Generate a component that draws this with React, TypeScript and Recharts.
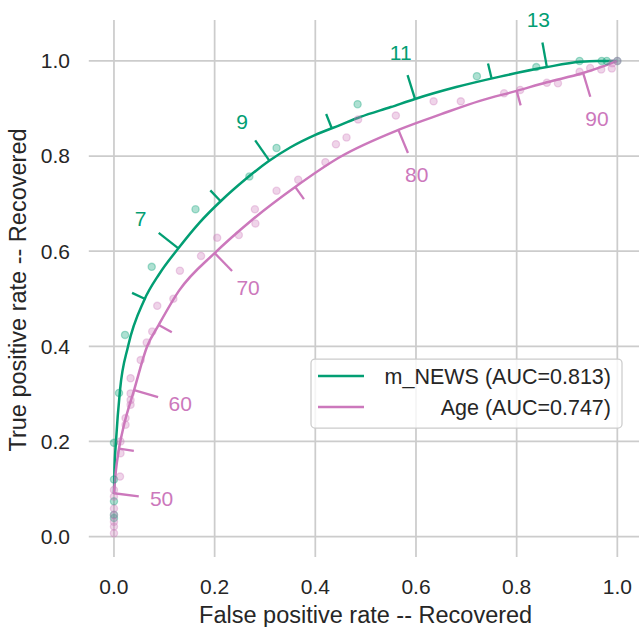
import React from 'react';
import { ComposedChart, Line, Scatter, XAxis, YAxis, ReferenceLine, Label } from 'recharts';

const GREEN = '#029E73';
const PINK = '#CC78BC';
const TEXT = '#262626';
const GRID = '#cccccc';
const FONT = '"Liberation Sans", Arial, Helvetica, sans-serif';

// ---- Fitted (smooth) ROC curves ----
const newsCurveFpr = [0, 0.001, 0.004, 0.012, 0.028, 0.06, 0.09, 0.128, 0.17, 0.214, 0.26, 0.307, 0.35, 0.399, 0.449, 0.489, 0.55, 0.598, 0.68, 0.767, 0.86, 0.926, 0.96, 1.0];
const newsCurveTpr = [0.09, 0.14, 0.2, 0.308, 0.4, 0.497, 0.552, 0.606, 0.66, 0.707, 0.75, 0.789, 0.818, 0.844, 0.865, 0.882, 0.903, 0.92, 0.945, 0.967, 0.987, 0.998, 1.0, 1.0];
const ageCurveFpr = [0, 0.004, 0.01, 0.02, 0.04, 0.066, 0.089, 0.13, 0.2, 0.27, 0.36, 0.449, 0.565, 0.65, 0.727, 0.8, 0.86, 0.93, 0.97, 1.0];
const ageCurveTpr = [0.091, 0.14, 0.185, 0.235, 0.308, 0.4, 0.445, 0.518, 0.596, 0.662, 0.735, 0.798, 0.855, 0.888, 0.916, 0.937, 0.955, 0.974, 0.988, 1.0];

// ---- Empirical ROC points ----
const newsPointFpr = [0, 0, 0, 0, 0, 0.01, 0.022, 0.075, 0.162, 0.269, 0.323, 0.484, 0.721, 0.839, 0.925, 0.969, 0.979, 1.0];
const newsPointTpr = [0.039, 0.046, 0.074, 0.12, 0.197, 0.302, 0.424, 0.567, 0.688, 0.757, 0.817, 0.909, 0.968, 0.987, 1.0, 1.0, 1.0, 1.0];
const agePointFpr = [0, 0, 0, 0, 0, 0, 0, 0.012, 0.013, 0.013, 0.023, 0.023, 0.033, 0.033, 0.033, 0.033, 0.053, 0.065, 0.076, 0.086, 0.118, 0.131, 0.173, 0.205, 0.248, 0.28, 0.281, 0.323, 0.366, 0.42, 0.441, 0.462, 0.485, 0.56, 0.635, 0.689, 0.775, 0.807, 0.86, 0.882, 0.925, 0.946, 0.968, 0.989, 0.99, 1.0];
const agePointTpr = [0.007, 0.021, 0.031, 0.045, 0.059, 0.084, 0.098, 0.126, 0.175, 0.2, 0.235, 0.249, 0.277, 0.287, 0.301, 0.333, 0.371, 0.408, 0.431, 0.485, 0.5, 0.559, 0.59, 0.628, 0.634, 0.688, 0.658, 0.727, 0.75, 0.787, 0.825, 0.839, 0.877, 0.885, 0.915, 0.915, 0.932, 0.939, 0.954, 0.953, 0.977, 0.985, 0.982, 0.984, 0.995, 1.0];

// ---- Threshold ticks on the curves ----
const newsTickThresholds = [6, 7, 8, 9, 10, 11, 12, 13];
const newsTickLabels = ['', '7', '', '9', '', '11', '', '13'];
const newsTickFpr = [0.063, 0.128, 0.212, 0.309, 0.4325, 0.598, 0.75, 0.86];
const newsTickTpr = [0.499, 0.606, 0.705, 0.79, 0.859, 0.92, 0.964, 0.987];
const ageTickThresholds = [50, 55, 60, 65, 70, 75, 80, 85, 90];
const ageTickLabels = ['50', '', '60', '', '70', '', '80', '', '90'];
const ageTickFpr = [0.0, 0.01, 0.04, 0.089, 0.2, 0.36, 0.565, 0.8, 0.932];
const ageTickTpr = [0.091, 0.185, 0.308, 0.445, 0.596, 0.735, 0.855, 0.937, 0.975];

const axisTicks = [0, 0.2, 0.4, 0.6, 0.8, 1.0];
const legendLabels = ['m_NEWS (AUC=0.813)', 'Age (AUC=0.747)'];
const xLabel = 'False positive rate -- Recovered';
const yLabel = 'True positive rate -- Recovered';

// ---- layout ----
const CHART_W = 650;
const CHART_H = 627;
const MARGIN = { top: 20, right: 7.5, bottom: 0, left: 0 };
const Y_AXIS_W = 88.8;
const X_AXIS_H = 70;
const X_DOMAIN: [number, number] = [-0.05, 1.05];
const Y_DOMAIN: [number, number] = [-0.043, 1.086];
const PLOT_W = CHART_W - MARGIN.left - MARGIN.right - Y_AXIS_W;
const PLOT_H = CHART_H - MARGIN.top - MARGIN.bottom - X_AXIS_H;
const KX = PLOT_W / (X_DOMAIN[1] - X_DOMAIN[0]);
const KY = PLOT_H / (Y_DOMAIN[1] - Y_DOMAIN[0]);

const zip = (xs: number[], ys: number[]) => xs.map((x, i) => ({ x, y: ys[i] }));

const newsCurve = zip(newsCurveFpr, newsCurveTpr);
const ageCurve = zip(ageCurveFpr, ageCurveTpr);
const newsPoints = zip(newsPointFpr, newsPointTpr);
const agePoints = zip(agePointFpr, agePointTpr);
const newsTicks = newsTickThresholds.map((t, i) => ({ t, label: newsTickLabels[i], x: newsTickFpr[i], y: newsTickTpr[i] }));
const ageTicks = ageTickThresholds.map((t, i) => ({ t, label: ageTickLabels[i], x: ageTickFpr[i], y: ageTickTpr[i] }));

function interp(xs: number[], ys: number[], x: number) {
  if (x <= xs[0]) return ys[0];
  for (let i = 0; i < xs.length - 1; i++) {
    if (x <= xs[i + 1]) {
      const f = (x - xs[i]) / (xs[i + 1] - xs[i]);
      return ys[i] + f * (ys[i + 1] - ys[i]);
    }
  }
  return ys[ys.length - 1];
}

function slopeAt(xs: number[], ys: number[], x: number) {
  const h = 0.012;
  const x0 = Math.max(0, x - h);
  const x1 = Math.min(1, x + h);
  return (interp(xs, ys, x1) - interp(xs, ys, x0)) / (x1 - x0);
}

const makeTickShape = (xs: number[], ys: number[], side: number, color: string) => (props: any) => {
  const { cx, cy, payload } = props;
  if (cx == null || cy == null) return <g />;
  const s = slopeAt(xs, ys, payload.x);
  const nx0 = s * KY;
  const ny0 = KX;
  const L = Math.hypot(nx0, ny0);
  const nx = (side * nx0) / L;
  const ny = (side * ny0) / L;
  const labeled = payload.label !== '';
  const len = labeled ? 25 : 15;
  return (
    <g>
      <line x1={cx} y1={cy} x2={cx + nx * len} y2={cy + ny * len} stroke={color} strokeWidth={2.3} />
      {labeled && (
        <text x={cx + nx * 48} y={cy + ny * 48} dy="0.35em" textAnchor="middle" fill={color} fontSize={21} fontFamily={FONT}>
          {payload.label}
        </text>
      )}
    </g>
  );
};

const makeDotShape = (color: string) => (props: any) => {
  const { cx, cy } = props;
  if (cx == null || cy == null) return <g />;
  return <circle cx={cx} cy={cy} r={3.6} fill={color} fillOpacity={0.32} stroke={color} strokeOpacity={0.32} strokeWidth={1.3} />;
};

const fmt = (v: number) => v.toFixed(1);

export default function App() {
  return (
    <div style={{ position: 'absolute', left: 0, top: 0, width: 639, height: 627, overflow: 'hidden', background: '#ffffff' }}>
      <ComposedChart width={CHART_W} height={CHART_H} margin={MARGIN} style={{ fontFamily: FONT }}>
        <XAxis type="number" dataKey="x" domain={X_DOMAIN} ticks={axisTicks} tickFormatter={fmt} axisLine={false} tickLine={false} tickSize={0} tickMargin={22} height={X_AXIS_H} tick={{ fill: TEXT, fontSize: 21, fontFamily: FONT }} interval={0}>
          <Label
            content={(p: any) => {
              const vb = p.viewBox || { x: Y_AXIS_W, y: MARGIN.top + PLOT_H, width: PLOT_W, height: X_AXIS_H };
              return (
                <text x={vb.x + vb.width / 2} y={vb.y + vb.height - 4} textAnchor="middle" fill={TEXT} fontSize={23.5} fontFamily={FONT}>
                  {xLabel}
                </text>
              );
            }}
          />
        </XAxis>
        <YAxis type="number" domain={Y_DOMAIN} ticks={axisTicks} tickFormatter={fmt} axisLine={false} tickLine={false} tickSize={0} tickMargin={18.8} width={Y_AXIS_W} tick={{ fill: TEXT, fontSize: 21, fontFamily: FONT }} interval={0}>
          <Label
            content={(p: any) => {
              const vb = p.viewBox || { x: 0, y: MARGIN.top, width: Y_AXIS_W, height: PLOT_H };
              const cx = vb.x + 26;
              const cy = vb.y + vb.height / 2 + 1.5;
              return (
                <text x={cx} y={cy} transform={`rotate(-90 ${cx} ${cy})`} textAnchor="middle" fill={TEXT} fontSize={23.5} fontFamily={FONT}>
                  {yLabel}
                </text>
              );
            }}
          />
        </YAxis>
        {axisTicks.map((t) => (
          <ReferenceLine key={`gx${t}`} x={t} stroke={GRID} strokeWidth={1.75} />
        ))}
        {axisTicks.map((t) => (
          <ReferenceLine key={`gy${t}`} y={t} stroke={GRID} strokeWidth={1.75} />
        ))}
        <Scatter data={newsPoints} dataKey="y" shape={makeDotShape(GREEN)} isAnimationActive={false} />
        <Scatter data={agePoints} dataKey="y" shape={makeDotShape(PINK)} isAnimationActive={false} />
        <Line data={newsCurve} dataKey="y" type="monotone" stroke={GREEN} strokeWidth={2.5} dot={false} activeDot={false} isAnimationActive={false} />
        <Line data={ageCurve} dataKey="y" type="monotone" stroke={PINK} strokeWidth={2.5} dot={false} activeDot={false} isAnimationActive={false} />
        <Scatter data={newsTicks} dataKey="y" shape={makeTickShape(newsCurveFpr, newsCurveTpr, -1, GREEN)} isAnimationActive={false} />
        <Scatter data={ageTicks} dataKey="y" shape={makeTickShape(ageCurveFpr, ageCurveTpr, 1, PINK)} isAnimationActive={false} />
      </ComposedChart>
      <svg width={639} height={627} style={{ position: 'absolute', left: 0, top: 0, pointerEvents: 'none' }}>
        <rect x={311} y={359} width={311} height={69} rx={4} ry={4} fill="#ffffff" fillOpacity={0.8} stroke={GRID} strokeWidth={1.25} />
        {legendLabels.map((lab, i) => {
          const y = 376 + i * 31;
          const color = i === 0 ? GREEN : PINK;
          return (
            <g key={lab}>
              <line x1={318} y1={y} x2={364} y2={y} stroke={color} strokeWidth={2.5} />
              <text x={611} y={y} dy="0.35em" textAnchor="end" fill={TEXT} fontSize={21.5} fontFamily={FONT}>
                {lab}
              </text>
            </g>
          );
        })}
      </svg>
    </div>
  );
}
